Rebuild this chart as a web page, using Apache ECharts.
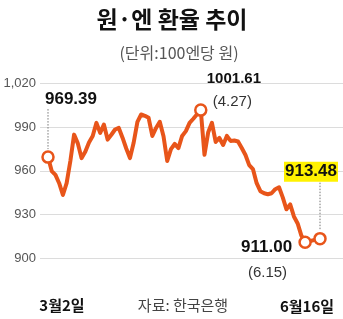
<!DOCTYPE html>
<html>
<head>
<meta charset="utf-8">
<script src="https://cdn.jsdelivr.net/npm/echarts@6/dist/echarts.min.js"></script>
<style>
  html, body { margin: 0; padding: 0; background: #fff; }
  #main { width: 343px; height: 319px; }
</style>
</head>
<body>
<div id="main"></div>
<script>
// 원·엔 환율 (100엔당 원), 3월2일 ~ 6월16일 / 자료: 한국은행
// null = 그림에서 점이 찍히지 않은 구간 (6월15일 -> 6월16일 직선)
var rates = [
  969.39, 959.8, 957.2, 951.5, 943.4, 951.5, 966.7, 984.8, 978.8, 968.7,
  973.0, 979.4, 983.9, 992.9, 986.0, 991.7, 981.4, 984.7, 988.3, 989.4,
  982.7, 975.3, 968.7, 979.4, 993.6, 998.6, 997.7, 996.3, 983.9, 989.4,
  993.6, 983.7, 966.7, 974.9, 978.4, 975.6, 983.9, 987.2, 992.9, 995.7,
  998.8, 1001.61, 971.0, 986.5, 992.9, 979.8, 982.5, 977.7, 983.9, 980.5,
  980.8, 980.1, 975.6, 970.8, 963.9, 961.2, 951.5, 946.0, 944.6, 943.9,
  944.6, 947.4, 948.7, 941.8, 933.6, 937.0, 928.7, 923.9, 915.6, 911.00,
  null, null, null, 913.48
];
var yTicks = [900, 930, 960, 990, 1020];
var xLabels = ['3월2일', '6월16일'];
// 표시할 점 (인덱스, 값 라벨, 날짜 라벨)
var markIdx = [0, 41, 69, 73];
var markText = ['969.39', '1001.61', '911.00', '913.48'];
var markDate = ['', '(4.27)', '(6.15)', ''];

var orange = '#e8551a';
var numFont = "'Liberation Sans', Arial, sans-serif";
var korFont = "'Noto Sans CJK KR', sans-serif";

var myChart = echarts.init(document.getElementById('main'));

var lineData = rates.map(function (v, i) {
  if (markIdx.indexOf(i) < 0) return v;
  return {
    value: v,
    symbol: 'circle',
    symbolSize: 11,
    itemStyle: { color: '#fff', borderColor: orange, borderWidth: 2.5 }
  };
});

var option = {
  animation: false,
  grid: [
    // 눈금선용
    { left: 40, right: 0, top: 83.3, height: 175 },
    // 선 그래프용
    { left: 48, right: 23, top: 83.3, height: 175 }
  ],
  xAxis: [
    { type: 'category', gridIndex: 0, show: false, data: rates.map(function (v, i) { return i; }) },
    { type: 'category', gridIndex: 1, show: false, boundaryGap: false, data: rates.map(function (v, i) { return i; }) }
  ],
  yAxis: [
    {
      type: 'value', gridIndex: 0,
      min: yTicks[0], max: yTicks[yTicks.length - 1], interval: 30,
      axisLine: { show: false },
      axisTick: { show: false },
      axisLabel: {
        margin: 4,
        color: '#555',
        fontSize: 13,
        fontFamily: numFont,
        formatter: function (v) { return v.toLocaleString('en-US'); }
      },
      splitLine: { lineStyle: { color: '#dcdcdc', width: 1 } }
    },
    {
      type: 'value', gridIndex: 1, show: false,
      min: yTicks[0], max: yTicks[yTicks.length - 1], interval: 30,
      splitLine: { show: false }
    }
  ],
  series: [{
    type: 'line',
    xAxisIndex: 1,
    yAxisIndex: 1,
    data: lineData,
    symbol: 'none',
    showSymbol: true,
    showAllSymbol: true,
    connectNulls: true,
    z: 3,
    lineStyle: { color: orange, width: 4, join: 'round', cap: 'round' }
  }]
};
myChart.setOption(option);

// 점 위치 (라이브러리 좌표 변환)
function px(i) {
  return myChart.convertToPixel({ gridIndex: 1 }, [i, rates[i]]);
}
var p0 = px(markIdx[0]);
var p1 = px(markIdx[1]);
var p2 = px(markIdx[2]);
var p3 = px(markIdx[3]);

var dotted = { stroke: '#777', lineWidth: 1, lineDash: [1.5, 1.5] };

myChart.setOption({
  graphic: [
    // 제목
    { type: 'text', x: 172, y: 19,
      style: { text: '원·엔 환율 추이', font: 'bold 23px ' + korFont, fill: '#111',
               textAlign: 'center', textVerticalAlign: 'middle' } },
    { type: 'text', x: 179, y: 53,
      style: { text: '(단위:100엔당 원)', font: '16px ' + korFont, fill: '#555',
               textAlign: 'center', textVerticalAlign: 'middle' } },

    // 969.39
    { type: 'line', shape: { x1: p0[0], y1: p0[1] - 48, x2: p0[0], y2: p0[1] - 8 }, style: dotted },
    { type: 'text', x: p0[0] + 23, y: p0[1] - 58,
      style: { text: markText[0], font: 'bold 17px ' + numFont, fill: '#111',
               textAlign: 'center', textVerticalAlign: 'middle' } },

    // 1001.61 (4.27)
    { type: 'text', x: p1[0] + 6, y: p1[1] - 31,
      style: { text: markText[1], font: 'bold 15px ' + numFont, fill: '#111',
               textAlign: 'left', textVerticalAlign: 'middle' } },
    { type: 'text', x: p1[0] + 12, y: p1[1] - 8,
      style: { text: markDate[1], font: '15px ' + numFont, fill: '#333',
               textAlign: 'left', textVerticalAlign: 'middle' } },

    // 911.00 (6.15)
    { type: 'text', x: p2[0] - 13, y: p2[1] + 5,
      style: { text: markText[2], font: 'bold 17px ' + numFont, fill: '#111',
               textAlign: 'right', textVerticalAlign: 'middle' } },
    { type: 'text', x: p2[0] - 18, y: p2[1] + 31,
      style: { text: markDate[2], font: '15px ' + numFont, fill: '#333',
               textAlign: 'right', textVerticalAlign: 'middle' } },

    // 913.48 (노란 박스)
    { type: 'line', shape: { x1: p3[0], y1: p3[1] - 56, x2: p3[0], y2: p3[1] - 8 }, style: dotted },
    { type: 'text', x: p3[0] - 9, y: p3[1] - 67,
      style: { text: markText[3], font: 'bold 17px ' + numFont, fill: '#111',
               textAlign: 'center', textVerticalAlign: 'middle',
               backgroundColor: '#fff200', padding: [2, 1, 1, 1] } },

    // 하단 날짜, 출처
    { type: 'text', x: p0[0] + 14, y: 305,
      style: { text: xLabels[0], font: 'bold 15px ' + korFont, fill: '#111',
               textAlign: 'center', textVerticalAlign: 'middle' } },
    { type: 'text', x: p3[0] - 13, y: 306,
      style: { text: xLabels[1], font: 'bold 15px ' + korFont, fill: '#111',
               textAlign: 'center', textVerticalAlign: 'middle' } },
    { type: 'text', x: 183, y: 305,
      style: { text: '자료: 한국은행', font: '15px ' + korFont, fill: '#444',
               textAlign: 'center', textVerticalAlign: 'middle' } }
  ]
});

window.addEventListener('resize', function () {
  myChart.resize();
});
</script>
</body>
</html>
